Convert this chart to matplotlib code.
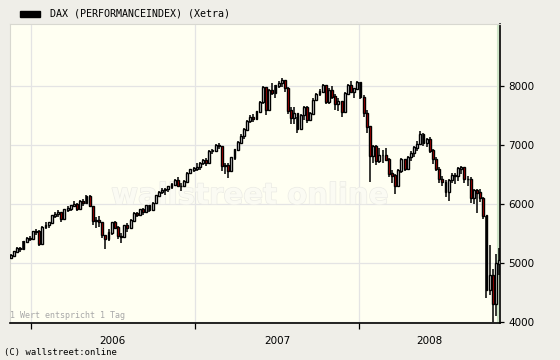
import matplotlib
matplotlib.use("Agg")
import matplotlib.pyplot as plt
import matplotlib.dates as mdates
import matplotlib.patheffects as pe
import numpy as np
import pandas as pd

# weekly candles (Friday), DAX Performance index, Xetra
first_open = 5090
close = [5120, 5190, 5240, 5230, 5360, 5420, 5410,
         5530, 5540, 5330, 5610, 5640, 5680, 5800, 5830, 5850, 5750, 5900, 5920, 5970,
         6000, 5920, 6050, 6010, 6120, 5960, 5720, 5720, 5690, 5470, 5400, 5510, 5680,
         5600, 5450, 5440, 5630, 5590, 5720, 5840, 5820, 5900, 5860, 5970, 5900, 6010,
         6140, 6200, 6230, 6250, 6290, 6330, 6400, 6300, 6300, 6380, 6520, 6580, 6600,
         6620, 6690, 6740, 6700, 6890, 6900, 6990, 6980, 6640, 6660, 6560, 6780, 6920,
         7040, 7150, 7260, 7400, 7470, 7440, 7560, 7720, 7980, 7600, 7930, 7880, 8000,
         8050, 8100, 7960, 7580, 7450, 7530, 7270, 7500, 7640, 7420, 7530, 7760, 7860,
         7900, 8000, 7720, 7930, 7820, 7700, 7740, 7560, 7870, 8000, 7900, 7950, 8060,
         7810, 7540, 7310, 6820, 6970, 6730, 6830, 6830, 6750, 6510, 6480, 6300, 6560,
         6750, 6600, 6790, 6860, 6950, 7010, 7180, 7040, 7100, 6900, 6760, 6590, 6420,
         6370, 6200, 6400, 6480, 6480, 6600, 6620, 6420, 6420, 6100, 6230, 6190, 6100,
         5800, 4540, 4780, 4300, 4990, 5050]
high = [5150, 5210, 5270, 5270, 5380, 5440, 5450,
        5540, 5580, 5560, 5620, 5690, 5700, 5810, 5860, 5900, 5860, 5920, 5960, 5990,
        6050, 6010, 6070, 6080, 6150, 6160, 5960, 5780, 5800, 5690, 5480, 5570, 5700,
        5720, 5620, 5500, 5650, 5680, 5740, 5860, 5870, 5920, 5930, 5990, 5990, 6030,
        6150, 6220, 6270, 6270, 6310, 6350, 6420, 6450, 6350, 6400, 6540, 6600, 6630,
        6700, 6710, 6770, 6780, 6920, 6940, 7010, 7040, 6990, 6700, 6700, 6800, 6940,
        7060, 7180, 7280, 7420, 7500, 7520, 7580, 7740, 8000, 7990, 7950, 8050, 8020,
        8080, 8130, 8080, 7980, 7640, 7640, 7480, 7530, 7660, 7660, 7560, 7790, 7880,
        7950, 8040, 7990, 7960, 8000, 7860, 7790, 7750, 7900, 8040, 8090, 7970, 8080,
        8070, 7850, 7600, 7300, 7000, 7000, 6950, 6920, 6950, 6780, 6580, 6500, 6600,
        6780, 6770, 6810, 6890, 6990, 7070, 7230, 7200, 7110, 7140, 6940, 6800, 6620,
        6480, 6400, 6430, 6530, 6530, 6620, 6640, 6600, 6480, 6460, 6250, 6250, 6250,
        6120, 5800, 5300, 4900, 5150, 5250]
low = [5080, 5110, 5180, 5190, 5220, 5340, 5380,
       5410, 5480, 5290, 5330, 5580, 5600, 5680, 5770, 5780, 5700, 5760, 5860, 5880,
       5950, 5880, 5920, 5960, 6000, 5950, 5650, 5600, 5610, 5420, 5240, 5380, 5480,
       5570, 5400, 5340, 5430, 5520, 5570, 5700, 5780, 5800, 5820, 5850, 5860, 5880,
       6000, 6120, 6170, 6160, 6200, 6260, 6310, 6280, 6220, 6290, 6370, 6500, 6540,
       6560, 6580, 6660, 6640, 6700, 6850, 6880, 6930, 6560, 6500, 6440, 6540, 6740,
       6900, 7030, 7100, 7240, 7380, 7390, 7420, 7540, 7700, 7500, 7580, 7850, 7800,
       7960, 7990, 7900, 7520, 7350, 7350, 7200, 7300, 7420, 7380, 7400, 7520, 7740,
       7830, 7880, 7700, 7690, 7780, 7600, 7570, 7480, 7550, 7840, 7880, 7790, 7940,
       7780, 7480, 7200, 6380, 6700, 6660, 6700, 6690, 6720, 6460, 6350, 6170, 6300,
       6520, 6560, 6590, 6720, 6800, 6900, 7000, 6980, 6960, 6860, 6680, 6560, 6350,
       6300, 6120, 6050, 6350, 6340, 6390, 6500, 6360, 6300, 6020, 6000, 5850, 6040,
       5750, 4400, 4450, 4000, 4100, 4800]
year_labels = ["2006", "2007", "2008"]
y_ticks = [4000, 5000, 6000, 7000, 8000]

dates = pd.date_range("2005-11-18", periods=len(close), freq="W-FRI")
opens = [first_open] + close[:-1]
x = mdates.date2num(dates)

fig = plt.figure(figsize=(5.6, 3.6), dpi=100, facecolor="#efeee8")
ax = fig.add_axes([10 / 560, 37 / 360, 489.5 / 560, 299 / 360])
ax.set_facecolor("#fffff2")

x_left = mdates.date2num(pd.Timestamp("2005-11-16"))
x_right = mdates.date2num(pd.Timestamp("2008-11-08"))
ax.set_xlim(x_left, x_right)
ax.set_ylim(3983, 9050)

# watermark
ax.text(0.49, 0.425, "wallstreet online", transform=ax.transAxes, ha="center",
        va="center", fontsize=21, fontweight="bold", color="#fbfbf3", zorder=1,
        path_effects=[pe.withStroke(linewidth=1.0, foreground="#ebebe5")])

# grid
for yv in y_ticks:
    ax.axhline(yv, color="#e4e4e4", lw=0.9, zorder=0)
year_starts = mdates.date2num(pd.to_datetime(["2006-01-01", "2007-01-01", "2008-01-01"]))
for xv in year_starts:
    ax.axvline(xv, color="#e4e4e4", lw=0.9, zorder=0)

# candles
opens = np.array(opens)
close = np.array(close)
up = close >= opens
ax.vlines(x, low, high, color="black", lw=1.1, zorder=3)
body_lo = np.minimum(opens, close)
body_h = np.abs(close - opens) + 8
ax.bar(x, body_h, bottom=body_lo, width=4.2,
       color=np.where(up, "white", "#dd0000"), edgecolor="black", lw=1.0, zorder=4)

# axes styling
for s in ["top", "left"]:
    ax.spines[s].set_color("#d8d8d0")
    ax.spines[s].set_linewidth(0.8)
ax.spines["bottom"].set_color("black")
ax.spines["bottom"].set_linewidth(1.2)
ax.spines["right"].set_color("black")
ax.spines["right"].set_linewidth(1.2)
ax.axvline(x_right - 2.5, color="#cfe5c8", lw=1.5, zorder=2)

ax.yaxis.tick_right()
ax.set_yticks(y_ticks)
ax.set_yticklabels([str(v) for v in y_ticks])
ax.tick_params(axis="y", which="major", length=3, width=0.9, pad=3.5,
               labelsize=7.5, colors="black")

ax.set_xticks(year_starts)
ax.set_xticklabels([])
ax.tick_params(axis="x", which="major", length=4, width=0.9, direction="out")
mids = [(year_starts[0] + year_starts[1]) / 2, (year_starts[1] + year_starts[2]) / 2,
        (year_starts[2] + x_right) / 2]
ax.set_xticks(mids, minor=True)
ax.set_xticklabels(year_labels, minor=True)
ax.tick_params(axis="x", which="minor", length=0, pad=9, labelsize=7.5)

# legend / notes
fig.patches.append(plt.Rectangle((20 / 560, 1 - 16.5 / 360), 20 / 560, 5.5 / 360,
                                 transform=fig.transFigure, color="black"))
fig.text(50 / 560, 1 - 14 / 360, "DAX (PERFORMANCEINDEX) (Xetra)", family="DejaVu Sans Mono",
         fontsize=7.2, va="center", ha="left")
ax.text(0.0, 0.01, "1 Wert entspricht 1 Tag", transform=ax.transAxes, family="DejaVu Sans Mono",
        fontsize=6, color="#a8a8a8", va="bottom", ha="left")
fig.text(4 / 560, 1 - 353 / 360, "(C) wallstreet:online", family="DejaVu Sans Mono",
         fontsize=6.4, va="center", ha="left")

fig.savefig("out.png", dpi=100, facecolor=fig.get_facecolor())
